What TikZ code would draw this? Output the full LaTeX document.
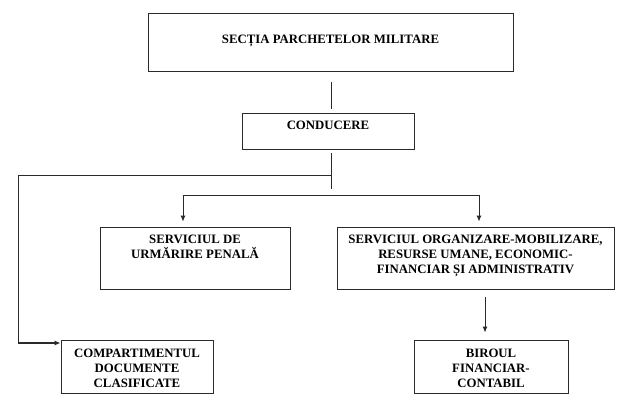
\documentclass[tikz,border=0pt]{standalone}
\usepackage{fontspec}
\setmainfont{Liberation Serif}
\usetikzlibrary{arrows.meta}
\definecolor{linec}{HTML}{2A2A2A}
\begin{document}
\begin{tikzpicture}[x=1pt,y=-1pt,
  box/.style={draw=linec, line width=0.9pt, inner sep=0pt},
  txt/.style={font=\fontsize{12.8}{15}\selectfont\bfseries, align=center, inner sep=0pt, text=black},
  conn/.style={draw=linec, line width=0.9pt},
  arr/.style={conn, -{Latex[length=6pt,width=5pt]}}]
\useasboundingbox[fill=white] (0,0) rectangle (625,412);
% boxes
\node[box, minimum width=365pt, minimum height=58pt] (sec) at (330.5,42) {};
\node[box, minimum width=172pt, minimum height=36pt] (cond) at (328,131) {};
\node[box, minimum width=190pt, minimum height=62pt] (sup) at (195,258) {};
\node[box, minimum width=277pt, minimum height=62pt] (org) at (475.5,258) {};
\node[box, minimum width=152pt, minimum height=53pt] (comp) at (137,366.5) {};
\node[box, minimum width=154pt, minimum height=53pt] (bir) at (491,366.5) {};
% texts
\node[txt, anchor=north] (sec-t) at ([yshift=-22pt]sec.north) {SECȚIA PARCHETELOR MILITARE};
\node[txt, anchor=north] (cond-t) at ([yshift=-8pt]cond.north) {CONDUCERE};
\node[txt, anchor=north] (sup-t) at ([yshift=-8pt]sup.north) {SERVICIUL DE\\URMĂRIRE PENALĂ};
\node[txt, anchor=north] (org-t) at ([yshift=-8pt]org.north) {SERVICIUL ORGANIZARE-MOBILIZARE,\\RESURSE UMANE, ECONOMIC-\\FINANCIAR ȘI ADMINISTRATIV};
\node[txt, anchor=north] (comp-t) at ([yshift=-9pt]comp.north) {COMPARTIMENTUL\\DOCUMENTE\\CLASIFICATE};
\node[txt, anchor=north] (bir-t) at ([yshift=-9pt]bir.north) {BIROUL\\FINANCIAR-\\CONTABIL};
% connector points
\coordinate (t1) at (331,82);
\coordinate (t2) at (331,109);
\coordinate (c1) at (331,153);
\coordinate (c2) at (331,189);
\coordinate (j1) at (331,175);
\coordinate (l1) at (18,175);
\coordinate (l2) at (18,343);
\coordinate (h1) at (183,195);
\coordinate (h2) at (479,195);
\coordinate (ob) at (485,297);
% connectors
\draw[conn] (t1) -- (t2);
\draw[conn] (c1) -- (c2);
\draw[conn] (j1) -- (l1) -- (l2);
\draw[arr, line width=1.6pt, -{Latex[length=6pt,width=5pt]}] (l2) -- (l2 -| comp.west);
\draw[conn] (h1) -- (h2);
\draw[arr, shorten >=5pt] (h1) -- (h1 |- sup.north);
\draw[arr, shorten >=5pt] (h2) -- (h2 |- org.north);
\draw[arr, shorten >=7pt] (ob) -- (ob |- bir.north);
\end{tikzpicture}
\end{document}
